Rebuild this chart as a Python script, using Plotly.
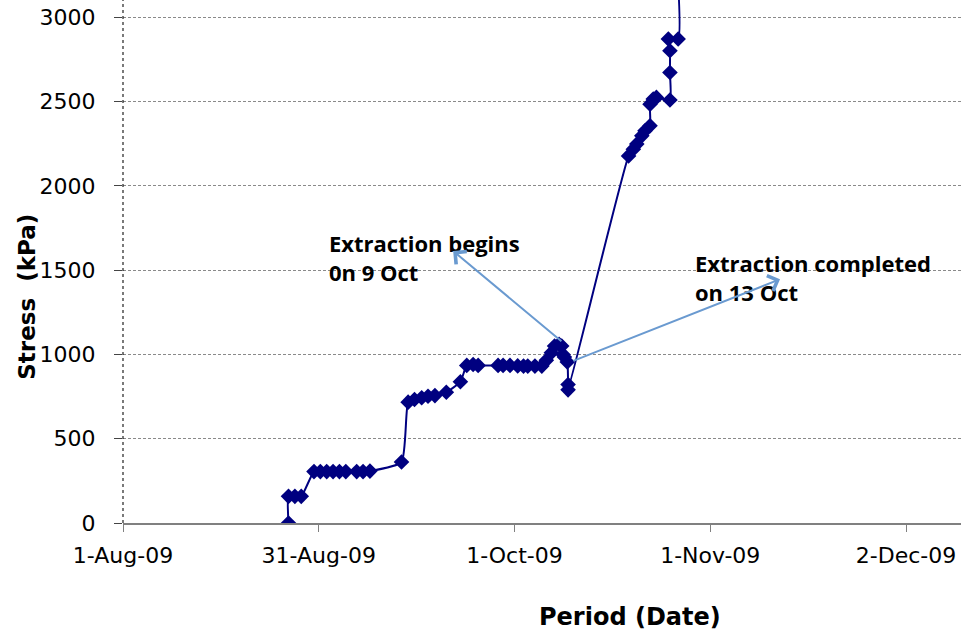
import plotly.graph_objects as go

# ---- data ----
dates = [
    "2009-08-27 00:00", "2009-08-27 00:00", "2009-08-28 00:00", "2009-08-29 00:00",
    "2009-08-31 00:00", "2009-09-01 00:00", "2009-09-02 00:00", "2009-09-03 00:00",
    "2009-09-04 00:00", "2009-09-05 00:00", "2009-09-06 17:00", "2009-09-07 17:00",
    "2009-09-08 19:00", "2009-09-13 18:00", "2009-09-14 19:00", "2009-09-15 19:00",
    "2009-09-16 22:00", "2009-09-17 22:00", "2009-09-19 00:00", "2009-09-20 19:00",
    "2009-09-23 00:00", "2009-09-24 00:00", "2009-09-25 00:00", "2009-09-25 19:00",
    "2009-09-28 22:00", "2009-09-29 17:00", "2009-09-30 19:00", "2009-10-02 00:00",
    "2009-10-02 22:00", "2009-10-03 14:00", "2009-10-04 17:00", "2009-10-05 19:00",
    "2009-10-06 12:00", "2009-10-07 07:00", "2009-10-07 19:00", "2009-10-08 12:00",
    "2009-10-08 22:00", "2009-10-09 03:00", "2009-10-09 08:00", "2009-10-09 19:00",
    "2009-10-09 22:00", "2009-10-09 22:00",
    "2009-10-19 10:00", "2009-10-20 04:00", "2009-10-20 17:00", "2009-10-21 12:00",
    "2009-10-22 00:00", "2009-10-22 19:00", "2009-10-22 19:00", "2009-10-23 07:00",
    "2009-10-23 19:00", "2009-10-25 22:00", "2009-10-25 22:00", "2009-10-25 22:00",
    "2009-10-25 16:00", "2009-10-27 05:00", "2009-10-26 12:00",
]
stress = [
    0, 158, 158, 158,
    305, 305, 305, 305,
    305, 305, 305, 305,
    308, 362, 717, 733,
    743, 752, 756, 776,
    838, 935, 940, 935,
    935, 935, 935, 932,
    931, 931, 931, 931,
    965, 1010, 1050, 1060,
    1050, 1000, 985, 955,
    822, 790,
    2178, 2218, 2248, 2297,
    2327, 2357, 2485, 2515,
    2525, 2510, 2673, 2802,
    2872, 2872, 3600,
]

# Excel date axis: major unit of 30.75 days starting 1-Aug-09
x_tick_vals = ["2009-08-01 00:00", "2009-08-31 18:00", "2009-10-01 12:00",
               "2009-11-01 06:00", "2009-12-02 00:00"]
x_tick_text = ["1-Aug-09", "31-Aug-09", "1-Oct-09", "1-Nov-09", "2-Dec-09"]
y_tick_vals = [0, 500, 1000, 1500, 2000, 2500, 3000]

navy = "#000080"
arrow_col = "#6A9AD0"

fig = go.Figure()
fig.add_trace(go.Scatter(
    x=dates, y=stress, mode="lines+markers",
    line=dict(color=navy, width=2, shape="spline", smoothing=0.5),
    marker=dict(symbol="diamond", size=12, color=navy),
    cliponaxis=True, showlegend=False,
))

tick_font = dict(family="DejaVu Sans", size=22, color="#000000")

fig.update_layout(
    width=961, height=634,
    margin=dict(l=123, r=0, t=0, b=111),
    paper_bgcolor="white", plot_bgcolor="white",
    xaxis=dict(
        type="date", range=["2009-08-01 00:00", "2009-12-10 15:20"],
        tickvals=x_tick_vals, ticktext=x_tick_text,
        showgrid=False, zeroline=False,
        showline=True, linecolor="#808080", linewidth=2,
        ticks="outside", ticklen=7, tickcolor="#808080", tickwidth=1.2,
        tickfont=tick_font, ticklabelstandoff=5,
    ),
    yaxis=dict(
        range=[0, 3103], tickvals=y_tick_vals,
        showgrid=True, gridcolor="#8a8a8a", griddash="3px,2px", gridwidth=1,
        zeroline=False, showline=False,
        ticks="outside", ticklen=8, tickcolor="#444444", tickwidth=1,
        tickfont=tick_font, ticklabelstandoff=14,
    ),
)

# dotted left axis line
fig.add_shape(type="line", xref="paper", yref="paper", x0=0, x1=0, y0=0, y1=1,
              line=dict(color="#222222", width=1.2, dash="dot"))

# axis titles
fig.add_annotation(text="<b>Stress  (kPa)</b>", xref="paper", yref="paper",
                   x=-0.1155, y=0.433, textangle=-90, showarrow=False,
                   font=dict(family="DejaVu Sans", size=23, color="#000000"),
                   xanchor="center", yanchor="middle")
fig.add_annotation(text="<b>Period (Date)</b>", xref="paper", y=-0.179, yref="paper",
                   x=0.605, showarrow=False,
                   font=dict(family="DejaVu Sans", size=24, color="#000000"),
                   xanchor="center", yanchor="middle")

# callouts
label_font = dict(family="Open Sans", size=22, color="#000000")
fig.add_annotation(text="<b>Extraction begins<br>0n 9 Oct</b>", x="2009-09-02 00:00", y=1575,
                   xref="x", yref="y", showarrow=False, align="left",
                   xanchor="left", yanchor="middle", font=label_font)
fig.add_annotation(text="<b>Extraction completed<br>on 13 Oct</b>", x="2009-10-29 14:00", y=1455,
                   xref="x", yref="y", showarrow=False, align="left",
                   xanchor="left", yanchor="middle", font=label_font)

fig.add_annotation(text="", x="2009-09-21 20:40", y=1614, xref="x", yref="y",
                   ax="2009-10-09 02:30", ay=1071, axref="x", ayref="y",
                   showarrow=True, arrowhead=4, arrowsize=1.6, arrowwidth=2,
                   arrowcolor=arrow_col)
fig.add_annotation(text="", x="2009-11-12 05:00", y=1446, xref="x", yref="y",
                   ax="2009-10-10 12:00", ay=958, axref="x", ayref="y",
                   showarrow=True, arrowhead=4, arrowsize=1.6, arrowwidth=2,
                   arrowcolor=arrow_col)

fig.write_html("out.html")
